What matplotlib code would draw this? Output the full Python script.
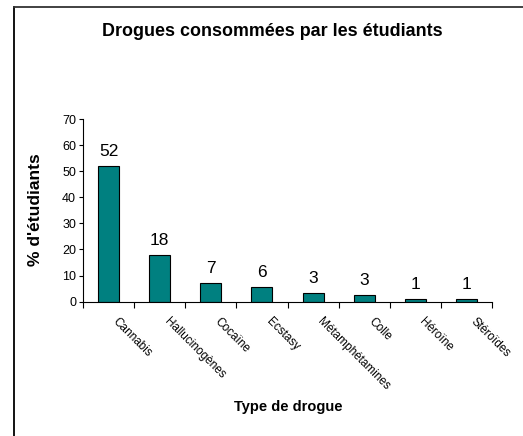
import matplotlib
matplotlib.use("Agg")
import matplotlib.pyplot as plt
from matplotlib.lines import Line2D
import numpy as np

plt.rcParams['font.family'] = ['Liberation Sans', 'DejaVu Sans']

drogues = ['Cannabis', 'Hallucinogènes', 'Cocaïne', 'Ecstasy',
           'Métamphétamines', 'Colle', 'Héroïne', 'Stéroïdes']
pourcent = [52, 18, 7, 5.7, 3.2, 2.7, 0.9, 0.9]
etiquettes = ['52', '18', '7', '6', '3', '3', '1', '1']

fig = plt.figure(figsize=(5.23, 4.36), dpi=100)
ax = fig.add_axes([83/523, 1 - 301.7/436, (492 - 83)/523, (301.7 - 119)/436])

x = np.arange(len(drogues))
ax.bar(x, pourcent, width=0.41, color='#008080', edgecolor='black', linewidth=0.8)

for xi, v, lab in zip(x, pourcent, etiquettes):
    ax.annotate(lab, (xi, v), xytext=(0, 5), textcoords='offset points',
                ha='center', va='bottom', fontsize=12.5)

# noms des drogues en biais sous l'axe
for xi, nom in zip(x, drogues):
    ax.annotate(nom, (xi, 0), xytext=(7.5, -10), textcoords='offset points',
                rotation=-45, rotation_mode='anchor', ha='left', va='top',
                fontsize=8.5, annotation_clip=False)

ax.set_xlim(-0.5, len(drogues) - 0.5)
ax.set_ylim(0, 70)
ax.set_yticks(range(0, 71, 10))
ax.tick_params(axis='y', labelsize=9, length=3, width=0.8, pad=2)

ax.set_xticks([])
ax.set_xticks(np.arange(-0.5, len(drogues)), minor=True)
ax.tick_params(axis='x', which='minor', length=4, width=0.8)

for s in ['top', 'right']:
    ax.spines[s].set_visible(False)
for s in ['left', 'bottom']:
    ax.spines[s].set_linewidth(0.8)

fig.text(35/523, 1 - 210/436, "% d'étudiants", ha='center', va='center',
         rotation=90, fontsize=12.5, fontweight='bold')
fig.text(288/523, 1 - 407/436, 'Type de drogue', ha='center', va='center',
         fontsize=10.5, fontweight='bold')
fig.text(272/523, 1 - 32/436, 'Drogues consommées par les étudiants', ha='center',
         va='center', fontsize=12.9, fontweight='bold')

# cadre autour du graphique
fig.add_artist(Line2D([13.5/523, 13.5/523], [0, 1 - 7.5/436], color='black', lw=1.3))
fig.add_artist(Line2D([13.5/523, 1], [1 - 7.5/436, 1 - 7.5/436], color='#333333', lw=1.3))

fig.savefig('out.png', dpi=100)
